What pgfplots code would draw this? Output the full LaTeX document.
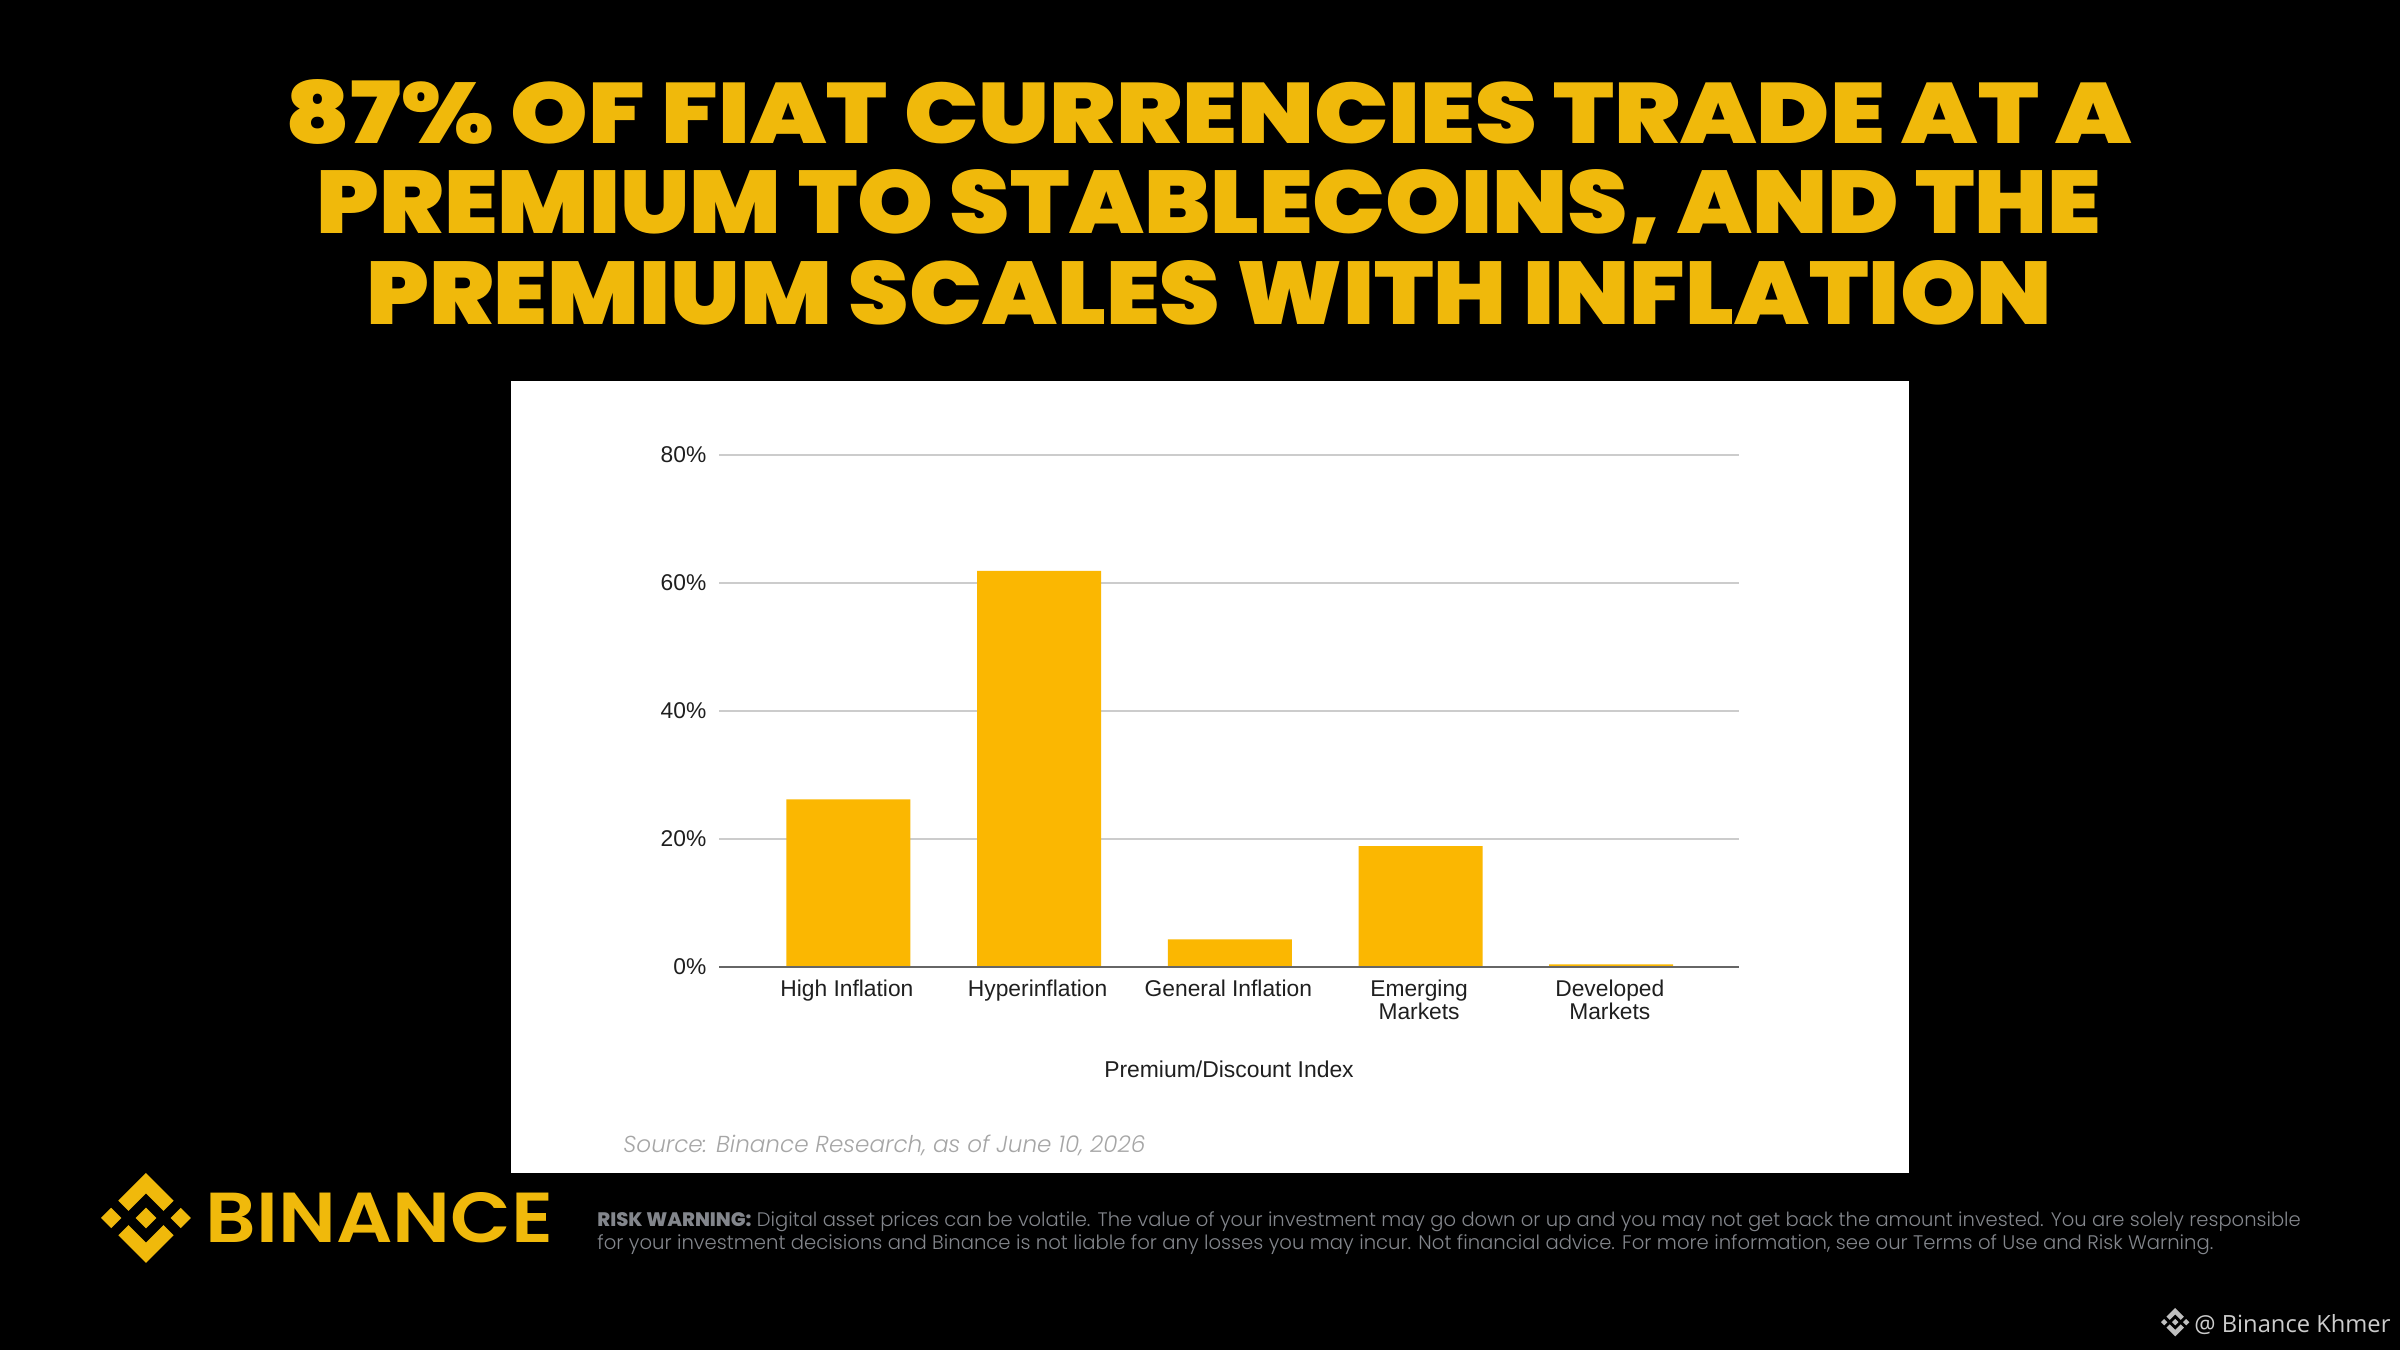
\documentclass[border=0pt]{standalone}
\usepackage{pgfplots}
\pgfplotsset{compat=1.18}
\usepackage{graphicx}
\usepackage{fontspec}
\setmainfont{Liberation Sans}
\newfontfamily\titlefont{Poppins Black}
\newfontfamily\logofont{Poppins SemiBold}
\newfontfamily\lightfont{Poppins Light}
\newfontfamily\lightitfont{Poppins Light Italic}
\newfontfamily\boldfont{Poppins ExtraBold}
\newfontfamily\markfont{Open Sans}
\definecolor{bnb}{HTML}{F0B90B}
\definecolor{barc}{HTML}{FBB701}
\definecolor{riskc}{HTML}{83868C}
\newcommand{\binancelogo}[4]{%
\begin{scope}[shift={(#1,#2)},x=#3pt,y=-#3pt]
\fill[#4] (38.73,53.2) -- (63.3,28.63) -- (87.88,53.21) -- (102.18,38.91) -- (63.3,0) -- (24.43,38.87) -- cycle;
\fill[#4] (0,63.31) -- (14.3,49.01) -- (28.6,63.31) -- (14.3,77.61) -- cycle;
\fill[#4] (38.73,73.41) -- (63.3,97.99) -- (87.88,73.4) -- (102.19,87.69) -- (63.31,126.59) -- (24.43,87.71) -- cycle;
\fill[#4] (98.01,63.31) -- (112.31,49.01) -- (126.61,63.31) -- (112.31,77.61) -- cycle;
\fill[#4] (77.81,63.3) -- (63.3,48.78) -- (48.8,63.28) -- (63.3,77.8) -- cycle;
\end{scope}}
\begin{document}
\begin{tikzpicture}[x=1pt,y=1pt]
\path[use as bounding box,fill=black] (0,0) rectangle (1200,675);
\fill[white] (255.5,88.6) rectangle (954.5,484.5);
% title
\node[anchor=base,inner sep=0,text=bnb] at (604.5,603) {\resizebox{923pt}{32pt}{\titlefont 87\% OF FIAT CURRENCIES TRADE AT A}};
\node[anchor=base,inner sep=0,text=bnb] at (604.5,558) {\resizebox{892pt}{32pt}{\titlefont PREMIUM TO STABLECOINS, AND THE}};
\node[anchor=base,inner sep=0,text=bnb] at (604.5,512.5) {\resizebox{842.6pt}{32pt}{\titlefont PREMIUM SCALES WITH INFLATION}};
% chart
\begin{axis}[
  at={(359.5pt,191.5pt)},anchor=south west,
  scale only axis,width=510pt,height=256pt,
  xmin=-0.678,xmax=4.67,ymin=0,ymax=80,
  axis line style={draw=none},
  tick style={draw=none},
  ymajorgrids,
  major grid style={draw=black!20,line width=0.8pt},
  ytick={0,20,40,60,80},
  yticklabel={\pgfmathprintnumber{\tick}\%},
  xtick={0,1,2,3,4},
  xticklabels={High Inflation,Hyperinflation,General Inflation,{Emerging\\Markets},{Developed\\Markets}},
  /pgf/number format/assume math mode=true,
  tick label style={font=\fontsize{11.4}{11.5}\selectfont,text=black!88},
  x tick label style={align=center,yshift=-3.1pt,xshift=-0.7pt},
  y tick label style={xshift=-2.8pt},
  xlabel={Premium/Discount Index},
  xlabel style={font=\fontsize{11.45}{13}\selectfont,text=black!88,at={(axis description cs:0.5,-0.2)},anchor=center},
  clip=false,
]
\addplot[ybar,bar width=62pt,fill=barc,draw=none] coordinates {(0,26.2)(1,61.9)(2,4.3)(3,18.9)(4,0.4)};
\addplot[draw=black!60,line width=1.2pt] coordinates {(-0.678,0)(4.67,0)};
\end{axis}
% source
\node[anchor=base west,inner sep=0,text=black!35] at (311.5,98.7) {\resizebox{261pt}{!}{\lightitfont Source: Binance Research, as of June 10, 2026}};
% logo
\binancelogo{50.5}{88.5}{0.3554}{bnb}
\node[anchor=base west,inner sep=0,text=bnb] at (102.7,53.5) {\resizebox{173.6pt}{25pt}{\logofont BINANCE}};
% risk
\node[anchor=base west,inner sep=0,text=riskc] at (298.5,61.5) {\resizebox{851.7pt}{!}{\lightfont {\boldfont RISK WARNING:} Digital asset prices can be volatile. The value of your investment may go down or up and you may not get back the amount invested. You are solely responsible}};
\node[anchor=base west,inner sep=0,text=riskc] at (298.5,50) {\resizebox{808pt}{!}{\lightfont for your investment decisions and Binance is not liable for any losses you may incur. Not financial advice. For more information, see our Terms of Use and Risk Warning.}};
% watermark
\binancelogo{1080.5}{21}{0.112}{black!25}
\node[anchor=base west,inner sep=0,text=black!20] at (1097,8.6) {\resizebox{98pt}{!}{\markfont @ Binance Khmer}};
\end{tikzpicture}
\end{document}
